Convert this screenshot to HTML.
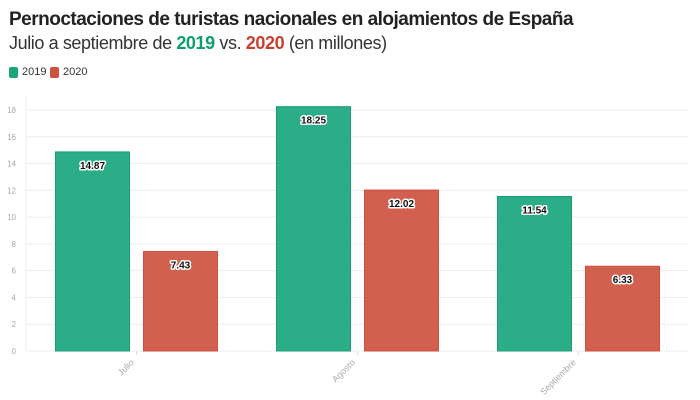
<!DOCTYPE html>
<html><head><meta charset="utf-8"><style>
body{margin:0;width:700px;height:400px;background:#fff;font-family:"Liberation Sans",sans-serif;overflow:hidden}
.t{position:absolute;left:9px;top:9px;font-size:19px;font-weight:bold;color:#222;letter-spacing:-0.5px}
.s{position:absolute;left:9px;top:33px;font-size:18px;color:#333;letter-spacing:-0.4px}
.lg{position:absolute;top:66px;font-size:11px;color:#333;display:flex;align-items:center}
.sw{width:9px;height:11px;border-radius:2px;margin-right:4px;display:inline-block}
</style></head><body>
<div class="t">Pernoctaciones de turistas nacionales en alojamientos de España</div>
<div class="s">Julio a septiembre de <b style="color:#0f9d6e">2019</b> vs. <b style="color:#c9412e">2020</b> (en millones)</div>
<div class="lg" style="left:9px"><span class="sw" style="background:#1aa57a"></span>2019</div>
<div class="lg" style="left:50px"><span class="sw" style="background:#cf5241"></span>2020</div>
<svg id="c" width="700" height="400" style="position:absolute;left:0;top:0"></svg>
<script>
const categories=["Julio","Agosto","Septiembre"];
const values2019=[14.87,18.25,11.54];
const values2020=[7.43,12.02,6.33];
const yTicks=[0,2,4,6,8,10,12,14,16,18];
const NS="http://www.w3.org/2000/svg";
const svg=document.getElementById('c');
const x0=26,x1=689,y0=351,yTop=110,yMax=18;
const y=v=>y0-(v/yMax)*(y0-yTop);
const band=(x1-x0)/categories.length;
const cx=i=>x0+band*(i+0.5);
function el(t,a){const e=document.createElementNS(NS,t);for(const k in a)e.setAttribute(k,a[k]);svg.appendChild(e);return e;}
const ax=el('line',{x1:x0,x2:x0,y1:95,y2:y0,stroke:'#eee'});


yTicks.forEach(t=>{
 const g=el('line',{x1:x0,x2:x1,y1:y(t),y2:y(t),stroke:'#ececec'});
 
 
 const l=el('text',{x:x0-10,y:y(t)+3,'text-anchor':'end','font-size':8,fill:'#aaa'});
 l.textContent=t;
 
 
});
const bw=74,gap=14;
function bar(v,xl,col,stroke){
 const r=el('rect',{x:xl,y:y(v),width:bw,height:y0-y(v),fill:col,stroke:stroke,'stroke-width':1});
 
 
 const t=el('text',{x:xl+bw/2,y:y(v)+17,'text-anchor':'middle','font-size':10,'font-weight':'bold',fill:'#111',stroke:'#fff','stroke-width':3,'paint-order':'stroke','stroke-linejoin':'round'});
 t.textContent=v.toFixed(2);
 
 
}
categories.forEach((c,i)=>{
 const m=cx(i);
 bar(values2019[i],m-gap/2-bw,'#2bae87','#1a9f74');
 bar(values2020[i],m+gap/2,'#d2604f','#cf5040');
 const tk=el('line',{x1:m,x2:m,y1:y0,y2:y0+4,stroke:'#ddd'});
 
 
 const l=el('text',{x:m-2,y:y0+12,'text-anchor':'end','font-size':9,fill:'#aaa',transform:`rotate(-45 ${m-2} ${y0+12})`});
 l.textContent=c;
 
 
});
</script>
</body></html>
